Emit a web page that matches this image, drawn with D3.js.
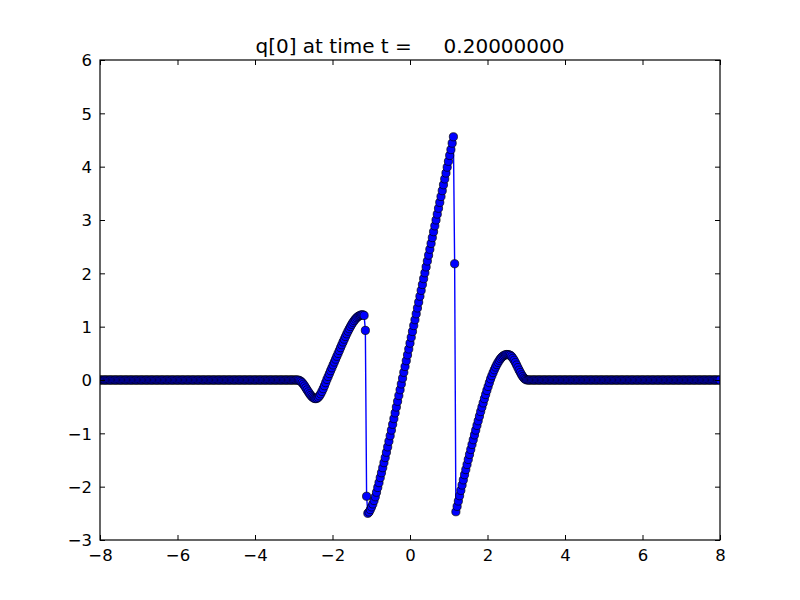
<!DOCTYPE html>
<html>
<head>
<meta charset="utf-8">
<script src="https://cdn.jsdelivr.net/npm/d3@7"></script>
<style>
  html, body { margin: 0; padding: 0; background: #ffffff; }
  svg text { font-family: "DejaVu Sans", sans-serif; }
</style>
</head>
<body>
<svg id="chart" width="800" height="600"></svg>
<script>
// ---------------- data ----------------
const chartTitle = "q[0] at time t =     0.20000000";
const xDomain = [-8, 8];
const yDomain = [-3, 6];
const xTickValues = [-8, -6, -4, -2, 0, 2, 4, 6, 8];
const yTickValues = [-3, -2, -1, 0, 1, 2, 3, 4, 5, 6];

// cell grid of the sampled solution
const gridStart = -8;
const gridStep = 0.032;
const gridCount = 501;
// outside the three segments below, q[0] reads as 0

// left wave: x = -2.976 ... -1.088
const leftWaveStartX = -2.976;
const leftWave = [
  0, 0, 0, -0.002, -0.011, -0.027, -0.05, -0.079, -0.112, -0.148,
  -0.186, -0.222, -0.257, -0.288, -0.314, -0.333, -0.346, -0.35, -0.343, -0.325,
  -0.297, -0.26, -0.214, -0.163, -0.108, -0.05, 0.01, 0.065, 0.12, 0.174,
  0.228, 0.282, 0.336, 0.39, 0.444, 0.498, 0.552, 0.606, 0.66, 0.713,
  0.765, 0.816, 0.866, 0.914, 0.96, 1.003, 1.043, 1.08, 1.113, 1.142,
  1.167, 1.187, 1.203, 1.214, 1.221, 1.223, 1.21, 0.93, -2.18, -2.5
];

// central ramp: x = -1.056 ... 1.120
const rampStartX = -1.056;
const ramp = [
  -2.475, -2.43, -2.38, -2.325, -2.26, -2.19, -2.105, -2.015, -1.925, -1.83,
  -1.74, -1.645, -1.55, -1.455, -1.355, -1.255, -1.15, -1.045, -0.94, -0.832,
  -0.725, -0.617, -0.508, -0.4, -0.292, -0.183, -0.075, 0.034, 0.143, 0.252,
  0.361, 0.47, 0.58, 0.69, 0.8, 0.91, 1.02, 1.13, 1.24, 1.35,
  1.46, 1.57, 1.68, 1.79, 1.9, 2.01, 2.12, 2.23, 2.34, 2.45,
  2.56, 2.67, 2.78, 2.89, 3.0, 3.11, 3.22, 3.33, 3.44, 3.55,
  3.66, 3.77, 3.88, 3.99, 4.1, 4.21, 4.32, 4.44, 4.56
];

// right wave: x = 1.152 ... 3.040
const rightWaveStartX = 1.152;
const rightWave = [
  2.18, -2.47, -2.37, -2.27, -2.17, -2.07, -1.97, -1.873, -1.776, -1.68,
  -1.585, -1.49, -1.396, -1.303, -1.21, -1.12, -1.03, -0.94, -0.852, -0.765,
  -0.678, -0.592, -0.51, -0.43, -0.35, -0.272, -0.196, -0.122, -0.05, 0.02,
  0.08, 0.138, 0.192, 0.242, 0.288, 0.33, 0.368, 0.4, 0.427, 0.448,
  0.463, 0.473, 0.478, 0.478, 0.47, 0.46, 0.438, 0.407, 0.37, 0.327,
  0.281, 0.233, 0.185, 0.14, 0.098, 0.063, 0.034, 0.014, 0.002, 0
];

// ---------------- build point table ----------------
const segments = [
  { start: leftWaveStartX, values: leftWave },
  { start: rampStartX, values: ramp },
  { start: rightWaveStartX, values: rightWave }
];
const lookup = new Map();
segments.forEach(s => s.values.forEach((v, k) => {
  const idx = Math.round((s.start - gridStart) / gridStep) + k;
  lookup.set(idx, v);
}));
const points = d3.range(gridCount).map(i => ({
  x: gridStart + i * gridStep,
  y: lookup.has(i) ? lookup.get(i) : 0
}));

// ---------------- layout ----------------
const svg = d3.select("#chart");
const plot = { left: 100, top: 60, right: 720, bottom: 540 };
const x = d3.scaleLinear().domain(xDomain).range([plot.left, plot.right]);
const y = d3.scaleLinear().domain(yDomain).range([plot.bottom, plot.top]);

svg.append("rect").attr("width", 800).attr("height", 600).attr("fill", "#ffffff");

svg.append("defs").append("clipPath").attr("id", "clip")
  .append("rect")
  .attr("x", plot.left).attr("y", plot.top)
  .attr("width", plot.right - plot.left).attr("height", plot.bottom - plot.top);

const g = svg.append("g").attr("clip-path", "url(#clip)");

const line = d3.line().x(d => x(d.x)).y(d => y(d.y));
g.append("path").datum(points)
  .attr("d", line)
  .attr("fill", "none")
  .attr("stroke", "#0000ff")
  .attr("stroke-width", 1.4);

g.selectAll("circle").data(points).enter().append("circle")
  .attr("cx", d => x(d.x))
  .attr("cy", d => y(d.y))
  .attr("r", 4.1)
  .attr("fill", "#0000ff")
  .attr("stroke", "#000000")
  .attr("stroke-width", 0.7);

// ---------------- axes ----------------
const fmt = d => (d < 0 ? "\u2212" + Math.abs(d) : String(d));
const tickLen = 5;

const axB = svg.append("g").attr("transform", `translate(0,${plot.bottom})`)
  .call(d3.axisBottom(x).tickValues(xTickValues).tickSize(-tickLen).tickPadding(9).tickFormat(fmt));
const axT = svg.append("g").attr("transform", `translate(0,${plot.top})`)
  .call(d3.axisTop(x).tickValues(xTickValues).tickSize(-tickLen).tickFormat(""));
const axL = svg.append("g").attr("transform", `translate(${plot.left},0)`)
  .call(d3.axisLeft(y).tickValues(yTickValues).tickSize(-tickLen).tickPadding(8).tickFormat(fmt));
const axR = svg.append("g").attr("transform", `translate(${plot.right},0)`)
  .call(d3.axisRight(y).tickValues(yTickValues).tickSize(-tickLen).tickFormat(""));

[axB, axT, axL, axR].forEach(a => {
  a.select(".domain").remove();
  a.selectAll(".tick line").attr("stroke", "#000").attr("stroke-width", 1);
  a.selectAll(".tick text").attr("fill", "#000").style("font-size", "16.5px")
    .style("font-family", "'DejaVu Sans', sans-serif");
});
axB.selectAll(".tick text").attr("dy", "0.71em");
axL.selectAll(".tick text").attr("dy", "0.36em");

// frame
svg.append("rect")
  .attr("x", plot.left).attr("y", plot.top)
  .attr("width", plot.right - plot.left).attr("height", plot.bottom - plot.top)
  .attr("fill", "none").attr("stroke", "#000").attr("stroke-width", 1.2);

// title
svg.append("text")
  .attr("x", (plot.left + plot.right) / 2)
  .attr("y", 53)
  .attr("text-anchor", "middle")
  .style("font-size", "20px")
  .style("white-space", "pre")
  .attr("xml:space", "preserve")
  .attr("fill", "#000")
  .text(chartTitle);
</script>
</body>
</html>
